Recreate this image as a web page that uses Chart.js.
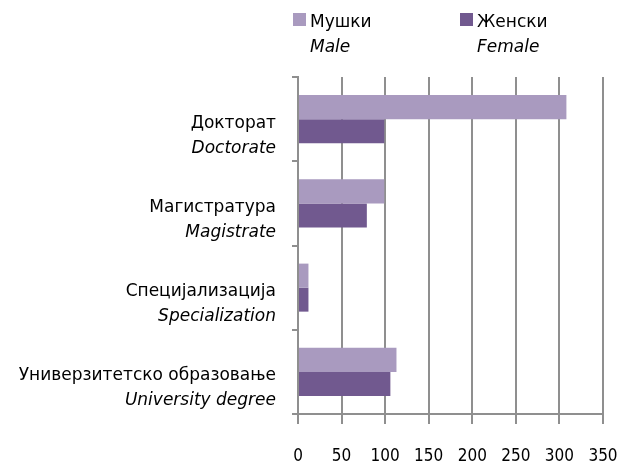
<!DOCTYPE html>
<html>
	<head>
		<meta charset="utf-8">
		<title>Образовање</title>
		<script src="https://cdn.jsdelivr.net/npm/chart.js@4.4.0/dist/chart.umd.min.js"></script>
		<style>
			html, body { margin: 0; padding: 0; background: #fff; }
			#wrap { width: 626px; height: 466px; }
		</style>
	</head>
	<body>
		<div id="wrap"><canvas id="myChart" width="626" height="466"></canvas></div>
		<script>
			// podaci
			const categories = ['Докторат', 'Магистратура', 'Специјализација', 'Универзитетско образовање']
			const categoriesEn = ['Doctorate', 'Magistrate', 'Specialization', 'University degree']
			const seriesNames = ['Мушки', 'Женски']
			const seriesNamesEn = ['Male', 'Female']
			const male = [308, 99, 12, 113]
			const female = [99, 79, 12, 106]
			const xTicks = [0, 50, 100, 150, 200, 250, 300, 350]

			const FONT = "'DejaVu Sans', sans-serif"
			const TICK_FONT = "'DejaVu Sans Condensed', 'DejaVu Sans', sans-serif"
			const colors = ['#a99abf', '#71598f']

			// etikete i legenda sa kurzivom
			const labelPlugin = {
				id: 'labelPlugin',
				afterDraw (chart) {
					const ctx = chart.ctx
					const y = chart.scales.y
					ctx.save()
					ctx.fillStyle = '#000'
					ctx.textAlign = 'right'
					ctx.textBaseline = 'middle'
					for (let i = 0; i < categories.length; i++) {
						const cy = y.getPixelForValue(i)
						ctx.font = '17px ' + FONT
						ctx.fillText(categories[i], 276, cy + 4)
						ctx.font = 'italic 17px ' + FONT
						ctx.fillText(categoriesEn[i], 276, cy + 29)
					}
					// legenda
					const lx = [293, 460]
					ctx.textAlign = 'left'
					for (let i = 0; i < seriesNames.length; i++) {
						ctx.fillStyle = colors[i]
						ctx.fillRect(lx[i], 13, 13, 13)
						ctx.fillStyle = '#000'
						ctx.font = '17px ' + FONT
						ctx.fillText(seriesNames[i], lx[i] + 17, 23)
						ctx.font = 'italic 17px ' + FONT
						ctx.fillText(seriesNamesEn[i], lx[i] + 17, 48)
					}
					ctx.restore()
				}
			}

			const ctx = document.getElementById('myChart').getContext('2d')
			const chart = new Chart(ctx, {
				type: 'bar',
				data: {
					labels: categories,
					datasets: [{
						label: seriesNames[0],
						data: male,
						backgroundColor: colors[0],
						borderWidth: 0,
						categoryPercentage: 0.57,
						barPercentage: 1
					},
					{
						label: seriesNames[1],
						data: female,
						backgroundColor: colors[1],
						borderWidth: 0,
						categoryPercentage: 0.57,
						barPercentage: 1
					}]
				},
				options: {
					indexAxis: 'y',
					responsive: false,
					animation: false,
					layout: { padding: { top: 77, right: 0, left: 0, bottom: 0 } },
					plugins: {
						legend: { display: false },
						tooltip: { enabled: false }
					},
					scales: {
						x: {
							min: 0,
							max: 350,
							afterBuildTicks (scale) { scale.ticks = xTicks.map(v => ({ value: v })) },
							afterFit (scale) {
								scale.height = 52
								scale.paddingLeft = 0
								scale.paddingRight = 23
							},
							border: { display: true, color: '#8f8f8f', width: 2 },
							grid: { color: '#8f8f8f', lineWidth: 2, tickLength: 10 },
							ticks: { color: '#000', padding: 22, font: { family: TICK_FONT, size: 17 } }
						},
						y: {
							afterFit (scale) { scale.width = 298 },
							border: { display: true, color: '#8f8f8f', width: 2 },
							grid: { drawOnChartArea: false, color: '#8f8f8f', lineWidth: 2, tickLength: 6 },
							ticks: { display: false }
						}
					}
				},
				plugins: [labelPlugin]
			})
		</script>
	</body>
</html>
